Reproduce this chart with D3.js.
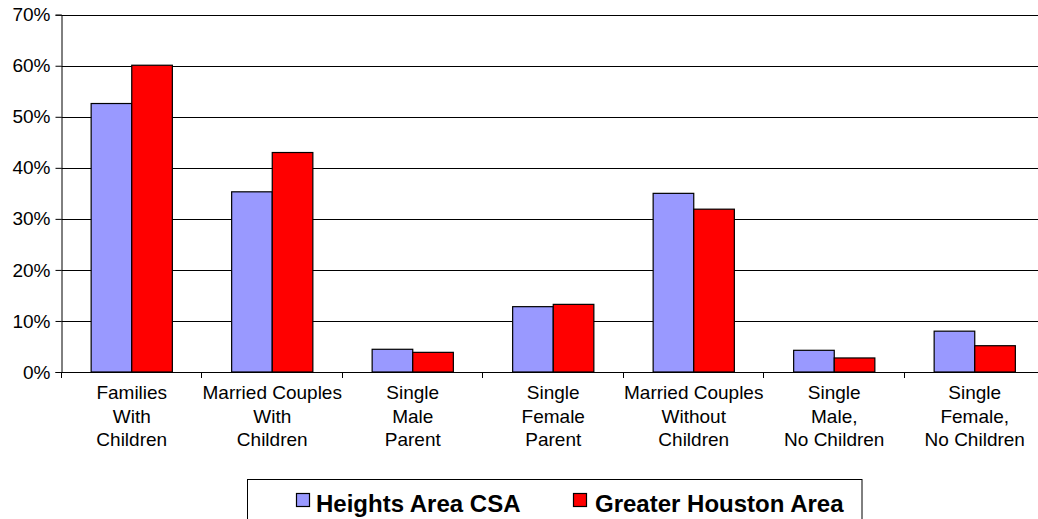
<!DOCTYPE html>
<html>
<head>
<meta charset="utf-8">
<script src="https://cdn.jsdelivr.net/npm/d3@7"></script>
<style>
  body { margin: 0; background: #fff; }
  svg { display: block; font-family: "Liberation Sans", Arial, sans-serif; }
</style>
</head>
<body>
<svg id="chart" width="1038" height="519"></svg>
<script>
const categories = [
  ['Families', 'With', 'Children'],
  ['Married Couples', 'With', 'Children'],
  ['Single', 'Male', 'Parent'],
  ['Single', 'Female', 'Parent'],
  ['Married Couples', 'Without', 'Children'],
  ['Single', 'Male,', 'No Children'],
  ['Single', 'Female,', 'No Children']
]
const seriesNames = ['Heights Area CSA', 'Greater Houston Area']
const heightsValues = [52.6, 35.3, 4.45, 12.8, 35.0, 4.25, 8.0]
const houstonValues = [60.1, 43.0, 3.85, 13.25, 31.9, 2.75, 5.15]
const yTicks = [0, 10, 20, 30, 40, 50, 60, 70]
const colors = ['#9999ff', '#ff0000']

const svg = d3.select('#chart')
const plotLeft = 61.5
const plotTop = 14.7
const plotBottom = 372
const bandW = 140.5

const x = d3.scaleBand()
  .domain(d3.range(categories.length))
  .range([plotLeft, plotLeft + bandW * categories.length])
  .paddingInner(0).paddingOuter(0)

const x1 = d3.scaleBand()
  .domain(d3.range(seriesNames.length))
  .range([x.bandwidth() * 0.211, x.bandwidth() * 0.789])

const y = d3.scaleLinear().domain([0, 70]).range([plotBottom, plotTop])

// gridlines
svg.append('g')
  .selectAll('line')
  .data(yTicks.filter(d => d > 0))
  .join('line')
  .attr('x1', plotLeft).attr('x2', x.range()[1])
  .attr('y1', d => Math.round(y(d)) + 0.5).attr('y2', d => Math.round(y(d)) + 0.5)
  .attr('stroke', '#000').attr('stroke-width', 1)

// y axis
const yAxis = svg.append('g')
  .attr('transform', `translate(${plotLeft},0)`)
  .call(d3.axisLeft(y).tickValues(yTicks).tickFormat(d => d + '%').tickSize(6).tickPadding(5))
yAxis.select('.domain').attr('stroke', '#000')
yAxis.selectAll('.tick line').attr('stroke', '#000')
yAxis.selectAll('.tick text')
  .attr('font-size', 19).attr('fill', '#000')
  .attr('font-family', '"Liberation Sans", Arial, sans-serif')

// bars
const rows = categories.map((c, i) => [heightsValues[i], houstonValues[i]])
svg.append('g')
  .selectAll('g')
  .data(rows)
  .join('g')
  .attr('transform', (d, i) => `translate(${x(i)},0)`)
  .selectAll('rect')
  .data(d => d.map((v, s) => ({ v, s })))
  .join('rect')
  .attr('x', d => x1(d.s))
  .attr('width', x1.bandwidth())
  .attr('y', d => y(d.v))
  .attr('height', d => y(0) - y(d.v))
  .attr('fill', d => colors[d.s])
  .attr('stroke', '#000')
  .attr('stroke-width', 1.2)

// x axis
const xAxis = svg.append('g')
  .attr('transform', `translate(0,${plotBottom})`)
svg.append('line')
  .attr('x1', plotLeft).attr('x2', x.range()[1])
  .attr('y1', plotBottom + 0.5).attr('y2', plotBottom + 0.5)
  .attr('stroke', '#000')
xAxis.selectAll('line.tk')
  .data(d3.range(categories.length + 1))
  .join('line')
  .attr('class', 'tk')
  .attr('x1', i => Math.round(plotLeft + i * bandW) - 0.5)
  .attr('x2', i => Math.round(plotLeft + i * bandW) - 0.5)
  .attr('y1', 0).attr('y2', 6)
  .attr('stroke', '#000')

xAxis.selectAll('text')
  .data(categories)
  .join('text')
  .attr('x', (d, i) => x(i) + x.bandwidth() / 2)
  .attr('y', 27.3)
  .attr('text-anchor', 'middle')
  .attr('font-size', 19)
  .attr('fill', '#000')
  .selectAll('tspan')
  .data(d => d)
  .join('tspan')
  .attr('x', function () { return this.parentNode.getAttribute('x') })
  .attr('dy', (d, i) => i === 0 ? 0 : 23.3)
  .text(d => d)

// legend
const legend = svg.append('g')
legend.append('rect')
  .attr('x', 247.5).attr('y', 479.5)
  .attr('width', 614.5).attr('height', 60)
  .attr('fill', '#fff').attr('stroke', '#000')

const legendX = [296, 573]
const textX = [316, 595]
seriesNames.forEach((name, i) => {
  legend.append('rect')
    .attr('x', legendX[i] + 0.5).attr('y', 493.5)
    .attr('width', 13).attr('height', 13)
    .attr('fill', colors[i]).attr('stroke', '#000').attr('stroke-width', 1.2)
  legend.append('text')
    .attr('x', textX[i]).attr('y', 511.5)
    .attr('font-size', 24).attr('font-weight', 'bold')
    .attr('fill', '#000')
    .text(name)
})
</script>
</body>
</html>
